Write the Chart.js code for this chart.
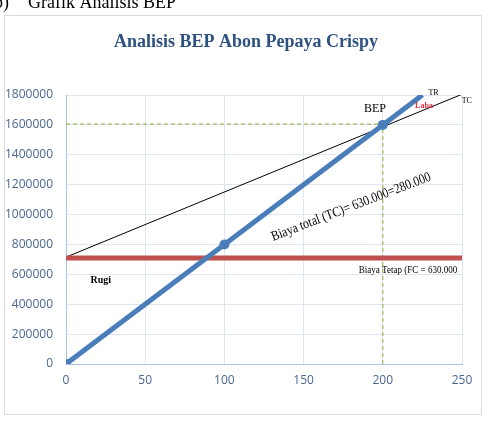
<!DOCTYPE html>
<html><head><meta charset="utf-8">
<script src="https://cdn.jsdelivr.net/npm/chart.js@4"></script>
<style>html,body{margin:0;padding:0;background:#fff;}#wrap{position:relative;width:486px;height:426px;}</style>
</head><body><div id="wrap"><canvas id="c" width="486" height="426"></canvas></div>
<script>
// Data
const xTicks = [0, 50, 100, 150, 200, 250];
const yTicks = [0, 200000, 400000, 600000, 800000, 1000000, 1200000, 1400000, 1600000, 1800000];
const trX = [0, 100, 200, 225];
const trY = [0, 800000, 1600000, 1800000];
const tcX = [0, 250];
const tcY = [715000, 1805000];
const fcX = [0, 250];
const fcY = [710000, 710000];
const bepHX = [0, 200];
const bepHY = [1605000, 1605000];
const bepVX = [200, 200];
const bepVY = [0, 1605000];
const trMarkers = [5, 5, 5, 0];

const pts = (xs, ys) => xs.map((x, i) => ({x: x, y: ys[i]}));

const deco = {
  id: 'deco',
  beforeDraw(chart) {
    const ctx = chart.ctx;
    ctx.save();
    ctx.fillStyle = '#fff';
    ctx.fillRect(0, 0, chart.width, chart.height);
    ctx.strokeStyle = '#d6dde8';
    ctx.lineWidth = 1;
    ctx.strokeRect(4.5, 15.5, 477, 399);
    ctx.fillStyle = '#000';
    ctx.font = '18px "Liberation Serif"';
    ctx.textBaseline = 'alphabetic';
    ctx.textAlign = 'left';
    ctx.fillText('b)', -6, 8);
    ctx.fillText('Grafik Analisis BEP', 28, 8);
    ctx.fillStyle = '#2E5180';
    ctx.font = 'bold 18px "Liberation Serif"';
    ctx.textAlign = 'center';
    ctx.textBaseline = 'middle';
    ctx.fillText('Analisis BEP Abon Pepaya Crispy', 246, 42);
    ctx.restore();
  },
  afterDatasetsDraw(chart) {
    const ctx = chart.ctx;
    const xs = chart.scales.x, ys = chart.scales.y;
    const P = (x, y) => [xs.getPixelForValue(x), ys.getPixelForValue(y)];
    ctx.save();
    ctx.textBaseline = 'middle';
    ctx.textAlign = 'center';
    ctx.fillStyle = '#000';
    ctx.font = '12px "Liberation Serif"';
    let p = P(195, 1710000); ctx.fillText('BEP', p[0], p[1]);
    ctx.font = '8px "Liberation Serif"';
    p = P(232, 1815000); ctx.fillText('TR', p[0], p[1]);
    p = P(253, 1760000); ctx.fillText('TC', p[0], p[1]);
    ctx.fillStyle = '#e0303a';
    ctx.font = 'bold 8px "Liberation Serif"';
    p = P(226, 1730000); ctx.fillText('Laba', p[0], p[1]);
    ctx.fillStyle = '#000';
    ctx.font = 'bold 10px "Liberation Serif"';
    p = P(22, 560000); ctx.fillText('Rugi', p[0], p[1]);
    ctx.save();
    ctx.font = '10.5px "Liberation Serif"';
    ctx.textAlign = 'right';
    p = P(247, 625000);
    ctx.translate(p[0], p[1]);
    ctx.scale(0.86, 1);
    ctx.fillText('Biaya Tetap (FC = 630.000', 0, 0);
    ctx.restore();
    ctx.textAlign = 'center';
    ctx.font = '14px "Liberation Serif"';
    p = P(180, 1050000);
    ctx.translate(p[0], p[1]);
    ctx.rotate(-21 * Math.PI / 180);
    ctx.scale(0.84, 1);
    ctx.fillText('Biaya total (TC)= 630.000=280.000', 0, 0);
    ctx.restore();
  }
};

new Chart(document.getElementById('c'), {
  type: 'scatter',
  data: {
    datasets: [
      {label: 'TR', data: pts(trX, trY), showLine: true, borderColor: '#4A7EBB', backgroundColor: '#4A7EBB', borderWidth: 5, pointRadius: trMarkers, pointBorderWidth: 0, order: 1},
      {label: 'FC', data: pts(fcX, fcY), showLine: true, borderColor: '#C0504D', borderWidth: 5, pointRadius: 0, order: 2},
      {label: 'TC', data: pts(tcX, tcY), showLine: true, borderColor: '#000', borderWidth: 1, pointRadius: 0, order: 3},
      {label: 'H', data: pts(bepHX, bepHY), showLine: true, borderColor: '#9BBB59', borderWidth: 1.2, borderDash: [4, 3], pointRadius: 0, order: 4},
      {label: 'V', data: pts(bepVX, bepVY), showLine: true, borderColor: '#9BBB59', borderWidth: 1.2, borderDash: [4, 3], pointRadius: 0, order: 4}
    ]
  },
  options: {
    responsive: false,
    animation: false,
    layout: {padding: {top: 95, right: 24, bottom: 0, left: 0}},
    plugins: {legend: {display: false}, tooltip: {enabled: false}, title: {display: false}},
    scales: {
      x: {
        type: 'linear', min: 0, max: 250,
        afterBuildTicks: s => { s.ticks = xTicks.map(v => ({value: v})); },
        afterFit: s => { s.height = 62; },
        grid: {color: '#dfe5f1', drawTicks: false},
        border: {color: '#a8c2e6'},
        ticks: {color: '#4a6690', font: {family: '"Open Sans"', size: 12}, padding: 9}
      },
      y: {
        type: 'linear', min: 0, max: 1800000,
        afterBuildTicks: s => { s.ticks = yTicks.map(v => ({value: v})); },
        afterFit: s => { s.width = 66; },
        grid: {color: '#dfe5f1', drawTicks: false},
        border: {color: '#a8c2e6'},
        ticks: {color: '#4a6690', font: {family: '"Open Sans"', size: 12}, padding: 13, callback: v => String(v)}
      }
    }
  },
  plugins: [deco]
});
</script></body></html>
